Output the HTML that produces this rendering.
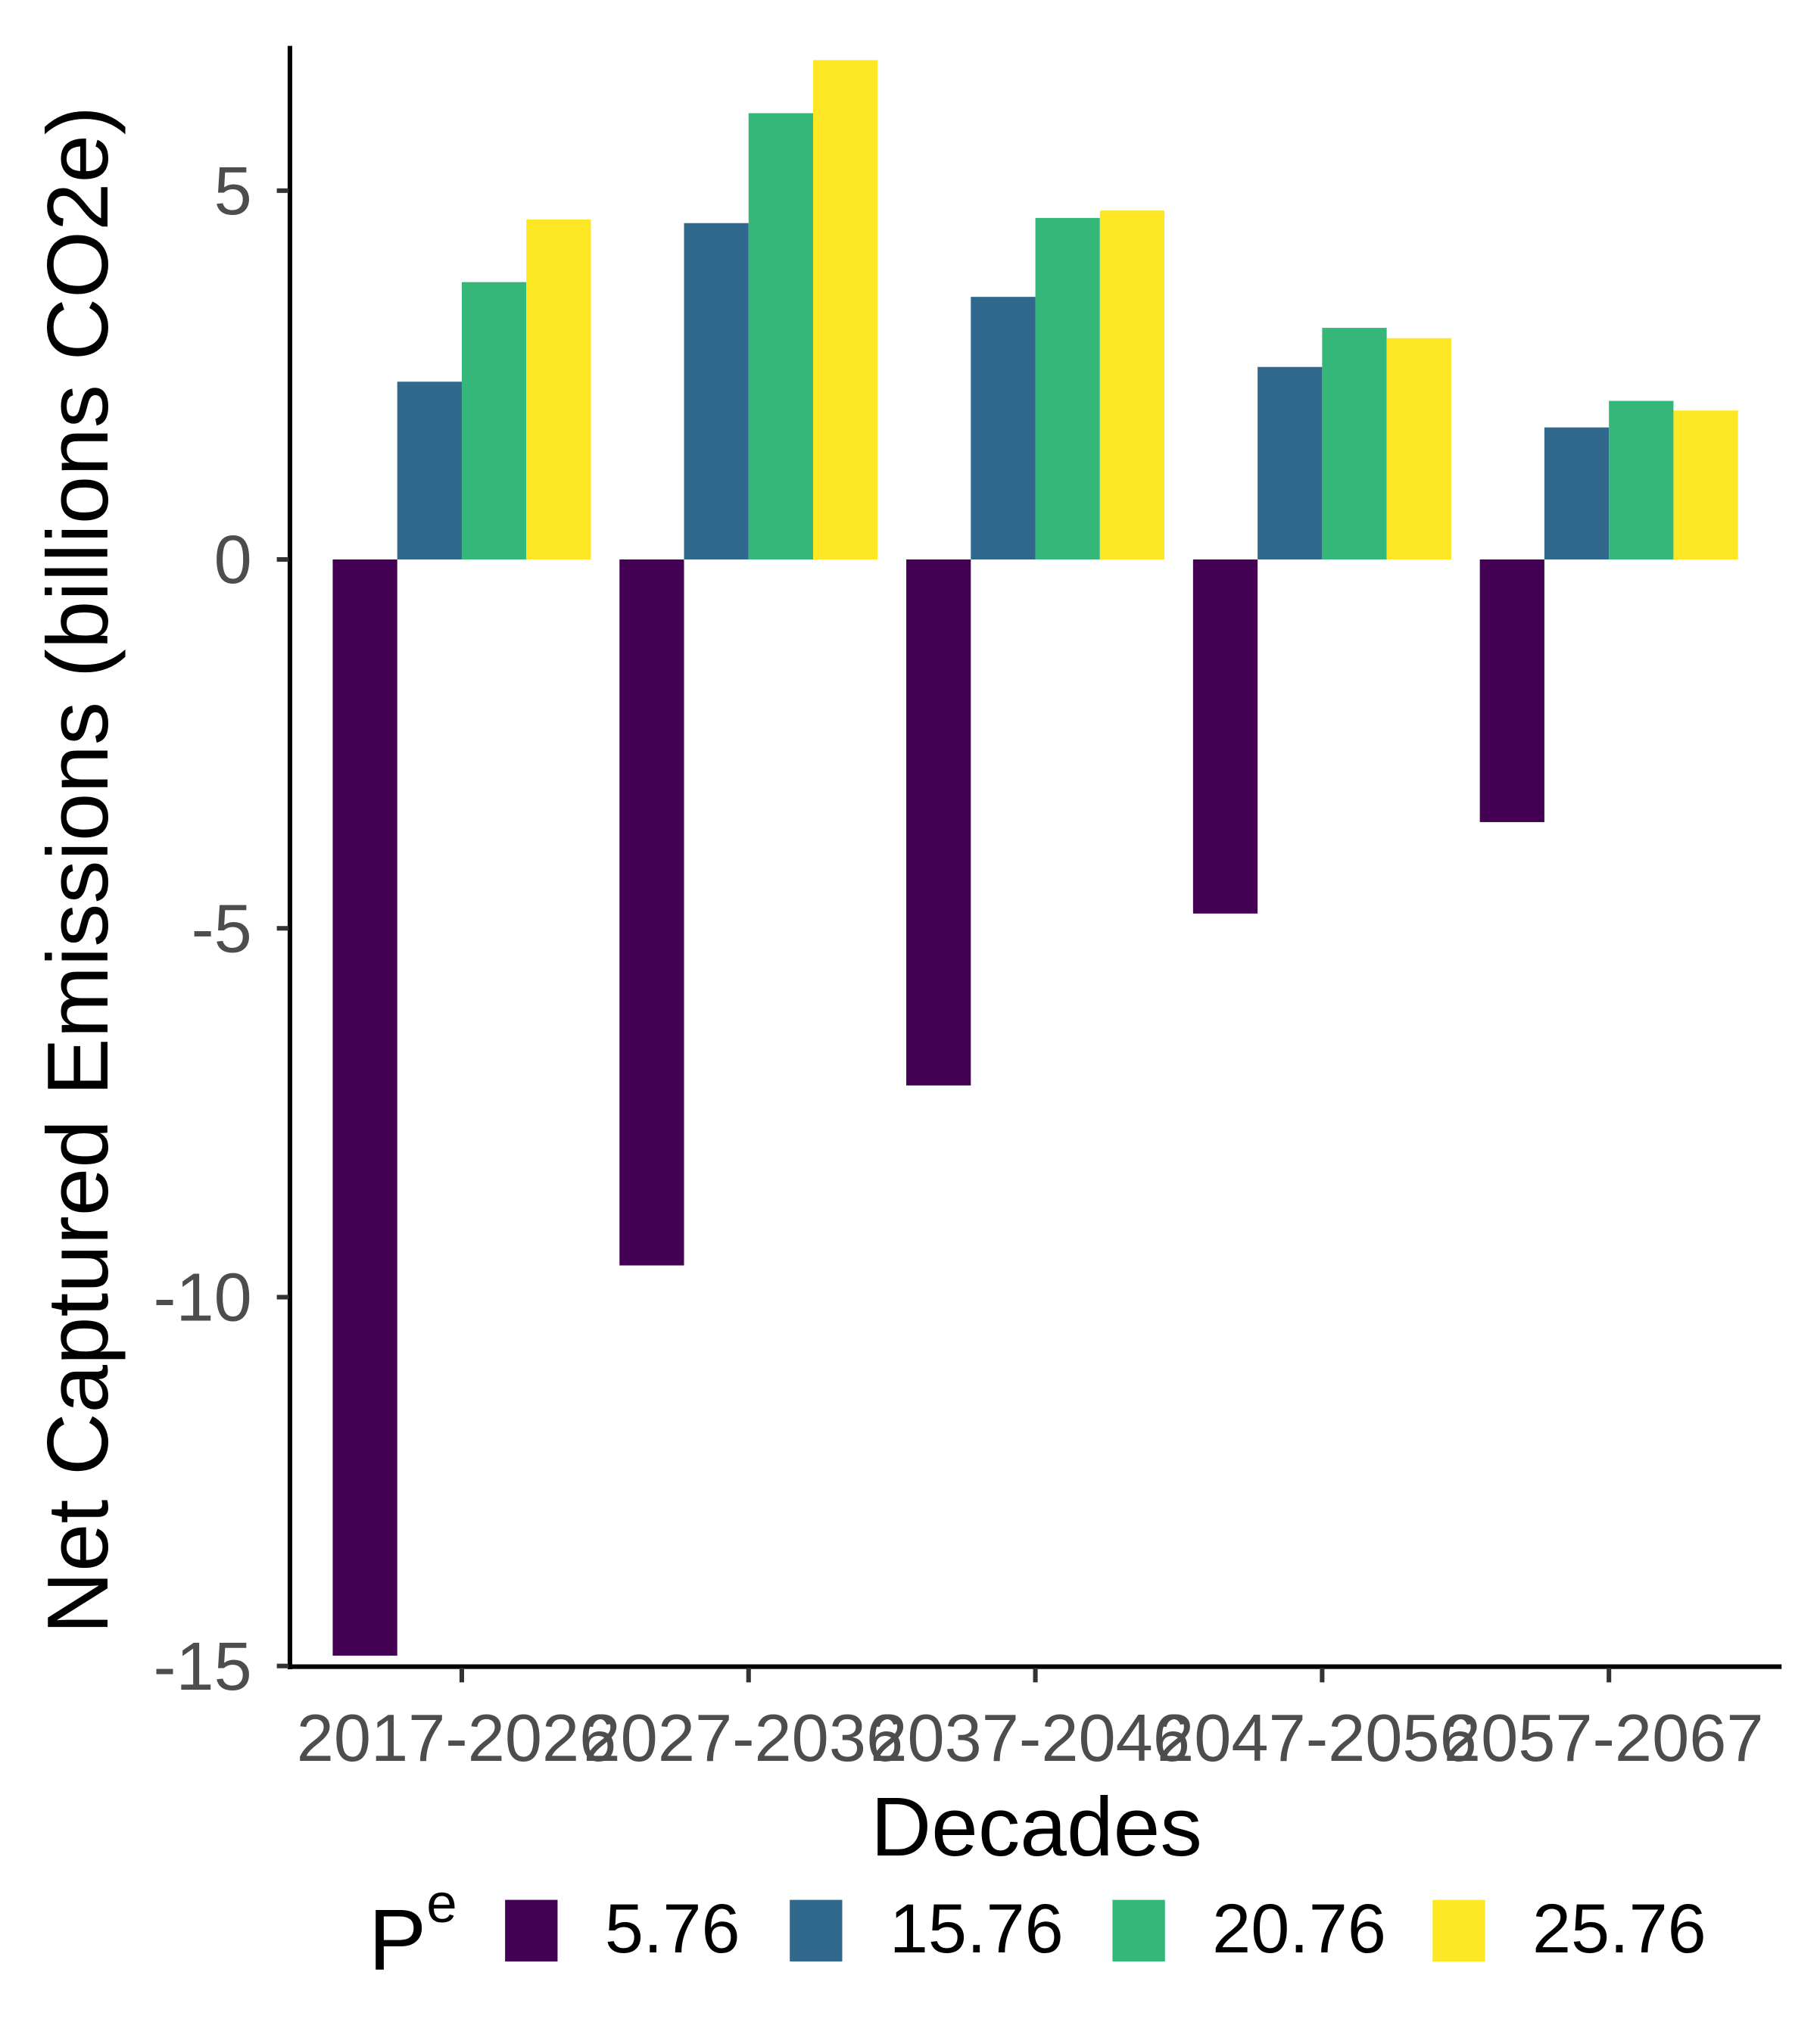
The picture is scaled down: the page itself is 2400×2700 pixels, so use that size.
<!DOCTYPE html>
<html><head><meta charset="utf-8"><style>
html,body{margin:0;padding:0;background:#fff;}
svg{display:block;font-family:"Liberation Sans",Arial,sans-serif;}
</style></head><body>
<svg id="chart" width="2400" height="2700" viewBox="0 0 1385 1560" preserveAspectRatio="none" xmlns="http://www.w3.org/2000/svg">
<rect width="1385" height="1560" fill="#fff"/>
<g id="bars"></g>
<g id="axes"></g>
<text x="790" y="1416" font-size="64" text-anchor="middle" fill="#000">Decades</text>
<text transform="translate(82,664) rotate(-90)" font-size="66" text-anchor="middle" fill="#000">Net Captured Emissions (billions CO2e)</text>
<g id="legend">
<text x="281" y="1503" font-size="66" fill="#000">P<tspan font-size="42" dy="-36">e</tspan></text>
</g>
<script>
const categories = ["2017-2026","2027-2036","2037-2046","2047-2056","2057-2067"];
const seriesNames = ["5.76","15.76","20.76","25.76"];
const s576 = [-14.86,-9.57,-7.13,-4.80,-3.56];
const s1576 = [2.41,4.56,3.56,2.61,1.79];
const s2076 = [3.76,6.05,4.63,3.14,2.15];
const s2576 = [4.61,6.77,4.73,3.00,2.02];
const yTicks = [5,0,-5,-10,-15];
const yTickLabels = ["5","0","-5","-10","-15"];

const series = [s576,s1576,s2076,s2576];
const colors = ["#440154","#31688E","#35B779","#FDE725"];
const NS = "http://www.w3.org/2000/svg";
const zeroY = 427, pxPerUnit = 56.3;
function yScale(v){ return zeroY - v*pxPerUnit; }
const firstCenter = 352, step = 218.6, barW = 49.2;
function xCenter(i){ return firstCenter + i*step; }
function mk(tag, attrs, parent){ const e=document.createElementNS(NS,tag); for(const k in attrs) e.setAttribute(k,attrs[k]); parent.appendChild(e); return e; }
const bars = document.getElementById('bars');
series.forEach((arr,si)=>{
  arr.forEach((v,ci)=>{
    const x = xCenter(ci) - 2*barW + si*barW;
    const y0 = yScale(Math.max(v,0)), y1 = yScale(Math.min(v,0));
    const r = mk('rect',{x:x,y:y0,width:barW,height:y1-y0,fill:colors[si]},bars);
    
    
  });
});
const axes = document.getElementById('axes');
const yl = mk('line',{x1:221,y1:35,x2:221,y2:1274,stroke:'#000','stroke-width':3.5},axes);


const xl = mk('line',{x1:219.5,y1:1272,x2:1358,y2:1272,stroke:'#000','stroke-width':3.5},axes);


yTicks.forEach((t,i)=>{
  const y = yScale(t);
  mk('line',{x1:211,y1:y,x2:220,y2:y,stroke:'#333','stroke-width':3.5},axes);
  const tx = mk('text',{x:192,y:y+18,'font-size':52,'text-anchor':'end',fill:'#4d4d4d'},axes);
  tx.textContent = yTickLabels[i];
  
  
});
categories.forEach((c,i)=>{
  const x = xCenter(i);
  mk('line',{x1:x,y1:1273,x2:x,y2:1284,stroke:'#333','stroke-width':3.5},axes);
  const tx = mk('text',{x:x-4,y:1344,'font-size':51,'text-anchor':'middle',fill:'#4d4d4d'},axes);
  tx.textContent = c;
  
  
});
const legend = document.getElementById('legend');
const swX = [385,602,848,1092];
seriesNames.forEach((n,i)=>{
  const r = mk('rect',{x:swX[i],y:1450,width:40,height:47,fill:colors[i]},legend);
  
  
  const t = mk('text',{x:swX[i]+76,y:1490,'font-size':53,fill:'#000'},legend);
  t.textContent = n;
  
  
});
</script>
</svg>
</body></html>
